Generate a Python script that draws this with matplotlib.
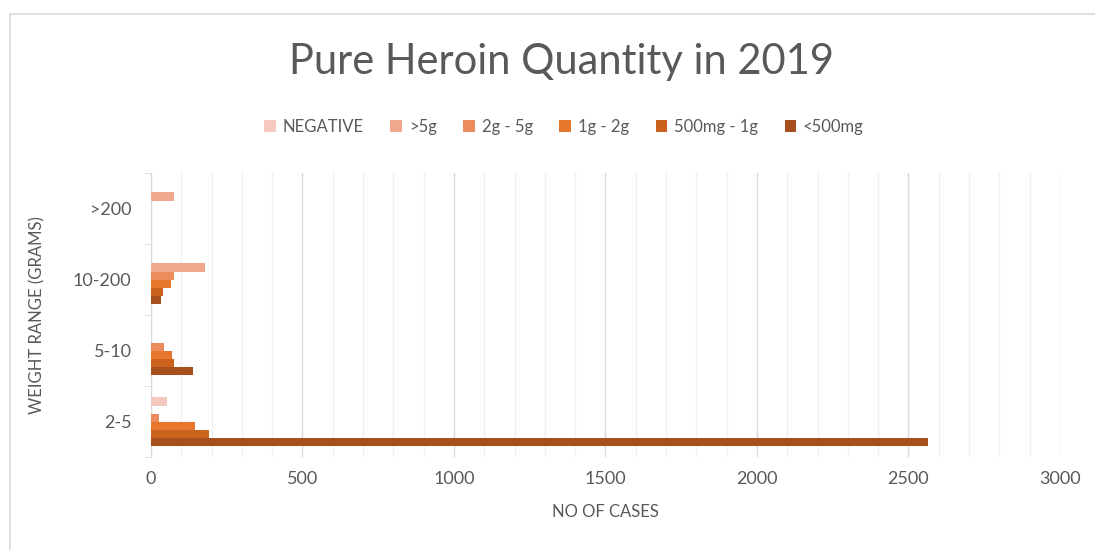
import matplotlib.pyplot as plt
import numpy as np
from matplotlib.patches import Rectangle
from matplotlib.ticker import MultipleLocator, FixedLocator

# weight ranges (bottom to top) and cases per purity band
categories = ["2-5", "5-10", "10-200", ">200"]
series_names = ["NEGATIVE", ">5g", "2g - 5g", "1g - 2g", "500mg - 1g", "<500mg"]
negative = [53, 0, 0, 0]
over_5g = [0, 0, 178, 75]
g2_5 = [27, 43, 75, 0]
g1_2 = [145, 69, 65, 0]
mg500_1g = [191, 77, 40, 0]
under_500mg = [2565, 139, 32, 0]
values = [negative, over_5g, g2_5, g1_2, mg500_1g, under_500mg]
colors = ["#F5C8C0", "#F1A68E", "#EC8B5C", "#E7772C", "#CB631F", "#A8501D"]

plt.rcParams['font.family'] = ['Lato', 'DejaVu Sans']
text_col = "#595959"

fig = plt.figure(figsize=(10.95, 5.5), dpi=100)
ax = fig.add_axes([0.1379, 0.169, 0.8301, 0.5164])

# outer chart border
fig.patches.append(Rectangle((10 / 1095, -0.1), 1.2, 0.1 + 1 - 14 / 550, transform=fig.transFigure,
                             fill=False, edgecolor="#D9D9D9", linewidth=1.2, zorder=0))

y = np.arange(len(categories))
h = 0.113
for i, (name, vals) in enumerate(zip(series_names, values)):
    ax.barh(y + (2.5 - i) * h, vals, height=h, color=colors[i], label=name, zorder=3)

ax.set_xlim(0, 3000)
ax.set_ylim(-0.5, 3.5)
ax.xaxis.set_major_locator(MultipleLocator(500))
ax.xaxis.set_minor_locator(MultipleLocator(100))
ax.grid(axis='x', which='major', color="#D9D9D9", linewidth=1, zorder=0)
ax.grid(axis='x', which='minor', color="#F0F0F0", linewidth=1, zorder=0)
ax.tick_params(axis='x', which='both', length=0, labelsize=13, labelcolor=text_col, pad=10)

ax.set_yticks(y)
ax.set_yticklabels(categories)
ax.yaxis.set_minor_locator(FixedLocator([-0.5, 0.5, 1.5, 2.5, 3.5]))
ax.tick_params(axis='y', which='major', length=0, labelsize=13, labelcolor=text_col, pad=14)
ax.tick_params(axis='y', which='minor', length=5, color="#D9D9D9", direction='out')

for s in ['top', 'right', 'bottom']:
    ax.spines[s].set_visible(False)
ax.spines['left'].set_color("#D9D9D9")

ax.set_xlabel("NO OF CASES", fontsize=12, color=text_col, labelpad=12)
ax.set_ylabel("WEIGHT RANGE (GRAMS)", fontsize=12, color=text_col, labelpad=20)

fig.suptitle("Pure Heroin Quantity in 2019", x=0.513, y=1 - 62 / 550, va='center',
             fontsize=30, color=text_col)

fig.legend(loc='center', bbox_to_anchor=(0.515, 1 - 127 / 550), ncol=6, frameon=False,
           fontsize=12, labelcolor=text_col, handlelength=0.7, handleheight=0.7,
           handletextpad=0.4, columnspacing=1.6)

fig.savefig("out.png", dpi=100, facecolor="white")
